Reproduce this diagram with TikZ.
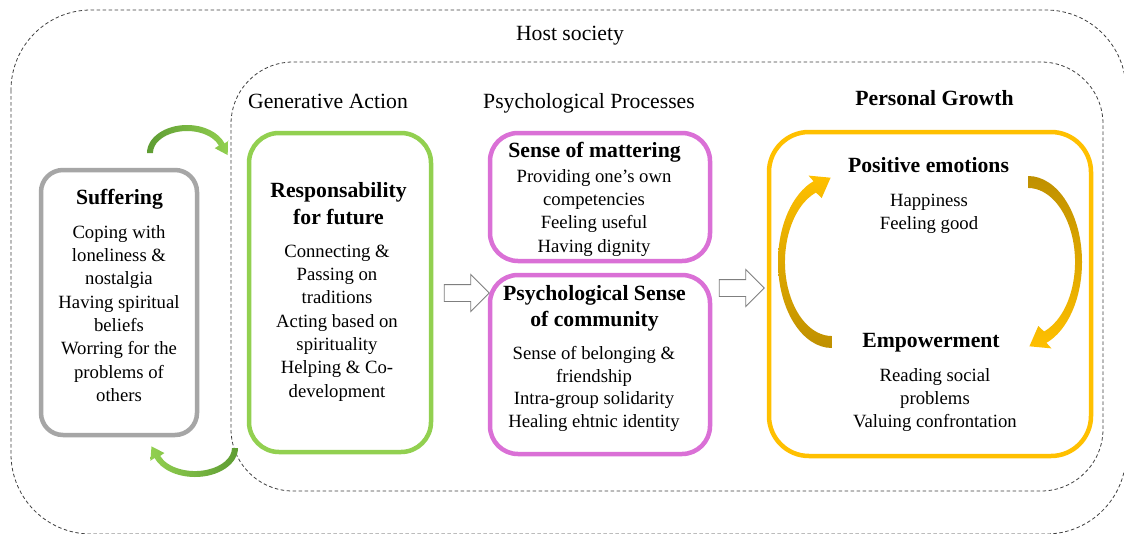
\documentclass[tikz,border=0pt]{standalone}
\usepackage{fontspec}
\setmainfont{Liberation Serif}
\usetikzlibrary{shapes.arrows}
\definecolor{frameGray}{HTML}{A6A6A6}
\definecolor{frameGreen}{HTML}{92D050}
\definecolor{framePink}{HTML}{DA70D6}
\definecolor{frameGold}{HTML}{FFC000}
\definecolor{goldDark}{HTML}{BF9000}
\definecolor{greenDark}{HTML}{5E9C33}
\definecolor{greenLight}{HTML}{92D050}
\definecolor{dashGray}{HTML}{404040}
\definecolor{arrowEdge}{HTML}{7F7F7F}

\begin{document}
\begin{tikzpicture}[x=1pt,y=-1pt,
  zone/.style={draw=dashGray, line width=0.8pt, dash pattern=on 3.5pt off 2.5pt},
  frame/.style={line width=4.5pt, fill=white, inner sep=0pt},
  heading/.style={font=\fontsize{21.7}{26}\selectfont, inner sep=0pt, anchor=base},
  title/.style={font=\bfseries\fontsize{21.7}{27}\selectfont, align=center, inner sep=0pt},
  body/.style={font=\fontsize{18.7}{23.3}\selectfont, align=center, inner sep=0pt, anchor=north},
  blockarrow/.style={single arrow, draw=arrowEdge, fill=white, line width=0.9pt,
    inner sep=8pt, single arrow head extend=10pt, minimum height=45pt},
]
\path[use as bounding box, clip] (0,0) rectangle (1124,533);
\fill[white] (0,0) rectangle (1124,533);

% nested dashed zones
\draw[zone, rounded corners=80pt] (11,10) rectangle (1126,534);
\draw[zone, rounded corners=62pt] (231,62) rectangle (1103,491);

% zone and column headings
\node[heading] (host) at (570,40.5) {Host society};
\node[heading] (hAction) at (328,108) {Generative Action};
\node[heading] (hProc) at (589,108) {Psychological Processes};
\node[heading, font=\bfseries\fontsize{21.7}{26}\selectfont] (hGrowth) at (934.5,105) {Personal Growth};

% frames
\node[frame, draw=frameGray, rounded corners=22pt, minimum width=156pt, minimum height=265pt] (suffering) at (119,302.5) {};
\node[frame, draw=frameGreen, rounded corners=30pt, minimum width=182pt, minimum height=319pt] (action) at (340,292.5) {};
\node[frame, draw=framePink, rounded corners=28pt, minimum width=220pt, minimum height=128pt] (mattering) at (600,197) {};
\node[frame, draw=framePink, rounded corners=28pt, minimum width=220pt, minimum height=179pt] (community) at (600,364.5) {};
\node[frame, draw=frameGold, rounded corners=40pt, minimum width=322pt, minimum height=324pt] (growth) at (930,294) {};

% Suffering
\node[title, anchor=base] (tSuff) at (119.5,204.5) {Suffering};
\node[body] (bSuff) at (119,221.7) {\strut Coping with\\loneliness \&\\nostalgia\\Having spiritual\\beliefs\\Worring for the\\problems of\\others};

% Generative action
\node[title, anchor=north] (tAction) at (338.5,178.6) {\strut Responsability\\for future};
\node[body] (bAction) at (337,240.7) {\strut Connecting \&\\Passing on\\traditions\\Acting based on\\spirituality\\Helping \& Co-\\development};

% Sense of mattering
\node[title, anchor=base] (tMat) at (594.5,157.5) {Sense of mattering};
\node[body] (bMat) at (594,165.7) {\strut Providing one’s own\\competencies\\Feeling useful\\Having dignity};

% Psychological sense of community
\node[title, anchor=north, font=\bfseries\fontsize{21.7}{26}\selectfont] (tCom) at (594.5,282.3) {\strut Psychological Sense\\of community};
\node[body, font=\fontsize{18.7}{22.5}\selectfont] (bCom) at (594,343.8) {\strut Sense of belonging \&\\friendship\\Intra-group solidarity\\Healing ehtnic identity};

% Personal growth
\node[title, anchor=base] (tPos) at (928.5,172) {Positive emotions};
\node[body] (bPos) at (929,189.7) {\strut Happiness\\Feeling good};
\node[title, anchor=base] (tEmp) at (931,347.5) {Empowerment};
\node[body] (bEmp) at (935,364.7) {\strut Reading social\\problems\\Valuing confrontation};

% hollow block arrows between the columns
\node[blockarrow] (step1) at (462.5,293) {};
\node[blockarrow] (step2) at (737.5,288) {};

% curved arrows linking suffering and generative action
\shade[left color=greenDark, right color=greenLight]
  (147,153) arc[start angle=180, end angle=340, x radius=40, y radius=28]
  -- (228.8,140.6) -- (227.5,155.0) -- (214.8,148.2) -- (218.9,145.5)
  arc[start angle=340, end angle=180, x radius=34, y radius=22] -- cycle;
\shade[left color=greenLight, right color=greenDark]
  (238,448) arc[start angle=0, end angle=160, x radius=43, y radius=29]
  -- (150.4,460.8) -- (151.5,446.4) -- (164.4,453.0) -- (160.2,455.9)
  arc[start angle=160, end angle=0, x radius=37, y radius=23] -- cycle;

% growth cycle arrows
\shade[top color=frameGold, bottom color=goldDark]
  (832,348) arc[start angle=90, end angle=250, x radius=54, y radius=86]
  -- (808.5,175.6) -- (830.6,177.7) -- (821.7,198.0) -- (815.9,192.5)
  arc[start angle=250, end angle=90, x radius=47, y radius=74] -- cycle;
\shade[top color=goldDark, bottom color=frameGold]
  (1028,176) arc[start angle=270, end angle=430, x radius=54, y radius=86]
  -- (1051.5,348.4) -- (1029.4,346.3) -- (1038.3,326.0) -- (1044.1,331.5)
  arc[start angle=430, end angle=270, x radius=47, y radius=74] -- cycle;
\end{tikzpicture}
\end{document}
